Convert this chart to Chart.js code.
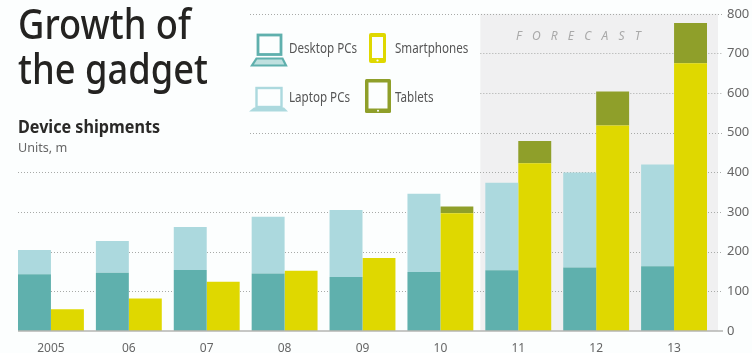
<!DOCTYPE html>
<html>
<head>
<meta charset="utf-8">
<script src="https://cdn.jsdelivr.net/npm/chart.js@4"></script>
<style>
  html, body { margin: 0; padding: 0; background: #fcfefe; }
  #wrap { position: relative; width: 752px; height: 353px; overflow: hidden; font-family: "Noto Sans", sans-serif; }
  #myChart { position: absolute; left: 0; top: 0; }
  .txt { position: absolute; white-space: nowrap; transform-origin: 0 0; }
  #t1, #t2 { left: 18px; font-size: 41px; font-weight: 500; color: #242321; line-height: 50px; transform: scaleX(.885); }
  #t1 { top: -2px; } #t2 { top: 43px; }
  #sub { left: 18px; top: 115px; font-size: 17px; font-weight: 700; color: #2a2927; transform: scaleX(.95); }
  #unit { left: 18px; top: 138px; font-size: 13px; color: #666; transform: scaleX(.97); }
  .leg { font-size: 13.5px; color: #555; transform: scaleX(.86); }
  #forecast { left: 516px; top: 27px; font-size: 12px; font-style: italic; color: #a9a9a9; letter-spacing: 10.2px; }
  svg { position: absolute; left: 0; top: 0; }
</style>
</head>
<body>
<div id="wrap">
  <canvas id="myChart" width="752" height="353"></canvas>
  <svg width="752" height="353" fill="none">
    <!-- desktop laptop icon -->
    <rect x="258" y="35" width="23" height="19.5" stroke="#5fb0ad" stroke-width="2.8"/>
    <path d="M256.5 58.5h26l3.5 7h-34z" fill="#bfe0df" stroke="#5fb0ad" stroke-width="2.2"/>
    <!-- light laptop icon -->
    <rect x="256.5" y="88" width="25" height="19" stroke="#acd9de" stroke-width="2.4"/>
    <path d="M254 107.5h30l4 4h-39z" fill="#acd9de"/>
    <!-- phone icon -->
    <rect x="369" y="33" width="17" height="30" rx="2" fill="#dfd800"/>
    <rect x="372" y="37" width="11" height="21" fill="#fcfefe"/>
    <circle cx="377.5" cy="60.5" r="1.1" fill="#fcfefe"/>
    <!-- tablet icon -->
    <rect x="365" y="79" width="26" height="34" rx="1.5" fill="#8f9f2a"/>
    <rect x="368.5" y="82.5" width="19" height="26" fill="#fcfefe"/>
    <circle cx="378" cy="110.8" r="1" fill="#fcfefe"/>
  </svg>
  <div class="txt" id="t1">Growth of</div>
  <div class="txt" id="t2">the gadget</div>
  <div class="txt" id="sub">Device shipments</div>
  <div class="txt" id="unit">Units, m</div>
  <div class="txt leg" style="left:289px;top:39px">Desktop PCs</div>
  <div class="txt leg" style="left:395px;top:39px">Smartphones</div>
  <div class="txt leg" style="left:289px;top:88px">Laptop PCs</div>
  <div class="txt leg" style="left:395px;top:88px">Tablets</div>
  <div class="txt" id="forecast">FORECAST</div>
</div>
<script>
var years = ['2005', '06', '07', '08', '09', '10', '11', '12', '13'];
var desktopPCs = [143, 147, 154, 145, 136, 149, 153, 160, 163];
var laptopPCs = [61, 80, 108, 143, 169, 197, 221, 240, 257];
var smartphones = [55, 82, 124, 152, 184, 297, 423, 518, 675];
var tablets = [0, 0, 0, 0, 0, 17, 56, 86, 102];
var yTicks = [0, 100, 200, 300, 400, 500, 600, 700, 800];

// shaded forecast band and dotted rules go under the bars
var backdrop = {
  id: 'backdrop',
  beforeDatasetsDraw: function (chart) {
    var ctx = chart.ctx, y = chart.scales.y, x = chart.scales.x;
    var halfBand = (x.getPixelForValue(1) - x.getPixelForValue(0)) / 2;
    var bandLeft = x.getPixelForValue(6) - halfBand + 1;
    var top = y.getPixelForValue(800), bottom = y.getPixelForValue(0);
    ctx.save();
    ctx.fillStyle = '#f0f0f1';
    ctx.fillRect(bandLeft, top, 718 - bandLeft, bottom - top);
    ctx.strokeStyle = '#a8aaa8';
    ctx.lineWidth = 1;
    ctx.setLineDash([1, 2]);
    yTicks.forEach(function (v) {
      if (v === 0) return;
      // the title block and legend sit over the rules higher up
      var from = 18;
      if (v === 800 || v === 500) from = 250;
      if (v === 700 || v === 600) from = bandLeft;
      var py = Math.round(y.getPixelForValue(v)) + 0.5;
      ctx.beginPath();
      ctx.moveTo(from, py);
      ctx.lineTo(722, py);
      ctx.stroke();
    });
    ctx.restore();
  },
  afterDatasetsDraw: function (chart) {
    var ctx = chart.ctx, py = chart.scales.y.getPixelForValue(0);
    ctx.save();
    ctx.strokeStyle = '#b4b4b2';
    ctx.lineWidth = 1.5;
    ctx.beginPath();
    ctx.moveTo(18, py);
    ctx.lineTo(723, py);
    ctx.stroke();
    ctx.restore();
  }
};

function series(label, values, color, stack) {
  return {
    label: label,
    data: values,
    backgroundColor: color,
    stack: stack,
    borderWidth: 0,
    categoryPercentage: 0.846,
    barPercentage: 1
  };
}

new Chart(document.getElementById('myChart').getContext('2d'), {
  type: 'bar',
  data: {
    labels: years,
    datasets: [
      series('Desktop PCs', desktopPCs, '#5fb0ad', 'pc'),
      series('Laptop PCs', laptopPCs, '#acd9de', 'pc'),
      series('Smartphones', smartphones, '#dfd800', 'mobile'),
      series('Tablets', tablets, '#8f9f2a', 'mobile')
    ]
  },
  options: {
    responsive: false,
    animation: false,
    layout: { padding: { left: 12, top: 6, right: 0, bottom: 0 } },
    plugins: { legend: { display: false }, tooltip: { enabled: false } },
    scales: {
      x: {
        stacked: true,
        grid: { display: false },
        border: { display: false },
        ticks: { color: '#666', font: { family: 'Noto Sans', size: 12 }, padding: 2, maxRotation: 0, autoSkip: false },
        afterFit: function (s) { s.height = 22; }
      },
      y: {
        position: 'right',
        stacked: true,
        min: 0,
        max: 800,
        grid: { display: false },
        border: { display: false },
        ticks: {
          stepSize: 100,
          color: '#666',
          font: { family: 'Noto Sans', size: 13 },
          padding: 6
        },
        afterFit: function (s) { s.width = 39; }
      }
    }
  },
  plugins: [backdrop]
});
</script>
</body>
</html>
